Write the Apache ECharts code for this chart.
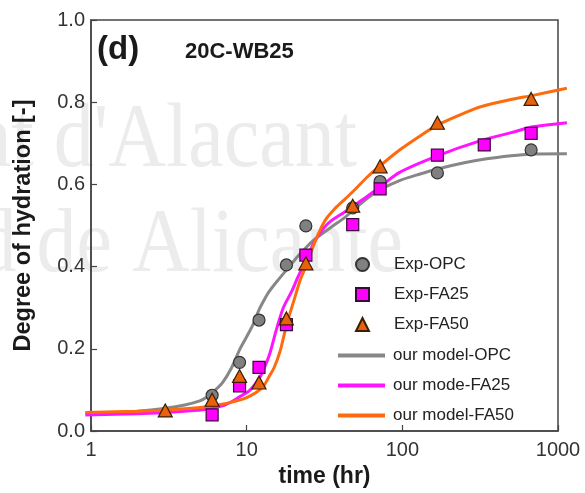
<!DOCTYPE html>
<html>
<head>
<meta charset="utf-8">
<script src="https://cdn.jsdelivr.net/npm/echarts@6/dist/echarts.min.js"></script>
<style>
  html, body { margin: 0; padding: 0; background: #ffffff; }
  #chart { width: 585px; height: 493px; }
</style>
</head>
<body>
<div id="chart"></div>
<script>
// Measured degree of hydration (20C, w/b 0.25)
const expTime = [3, 6, 9, 12, 18, 24, 48, 72, 168, 336, 672];
const expOPC  = [null, 0.087, 0.167, 0.270, 0.404, 0.499, 0.543, 0.607, 0.628, null, 0.684];
const expFA25 = [null, 0.039, 0.110, 0.155, 0.259, 0.428, 0.502, 0.589, 0.671, 0.696, 0.724];
const expFA50 = [0.050, 0.076, 0.134, 0.118, 0.274, 0.408, 0.548, 0.644, 0.750, null, 0.808];

// Model curves (they run slightly past both ends of the time axis)
const opcModelTime = [0.92, 1.5, 2, 3, 4, 5, 5.5, 6.2, 7, 8, 9, 10, 11, 12, 13, 14, 16, 18, 21.4, 24, 27.5, 35, 43, 48, 60, 72, 96, 130, 168, 250, 340, 500, 660, 1140];
const opcModel     = [0.050, 0.052, 0.055, 0.062, 0.070, 0.080, 0.088, 0.104, 0.124, 0.160, 0.203, 0.235, 0.265, 0.300, 0.325, 0.345, 0.373, 0.396, 0.430, 0.450, 0.471, 0.500, 0.524, 0.540, 0.570, 0.590, 0.612, 0.628, 0.640, 0.655, 0.664, 0.672, 0.676, 0.677];

const fa25ModelTime = [0.92, 2, 3, 4, 5.5, 7, 8, 9, 10.5, 12.2, 13, 14.1, 15.6, 17.2, 19.5, 21.4, 24, 27.5, 33.4, 42.8, 48, 60, 72, 96, 168, 315, 500, 692, 1140];
const fa25Model     = [0.046, 0.049, 0.052, 0.055, 0.060, 0.068, 0.078, 0.090, 0.106, 0.138, 0.160, 0.195, 0.255, 0.305, 0.345, 0.380, 0.420, 0.467, 0.509, 0.537, 0.550, 0.575, 0.597, 0.632, 0.672, 0.708, 0.728, 0.742, 0.752];

const fa50ModelTime = [0.92, 2, 3, 4, 5.5, 7.4, 9, 10, 11.5, 12.8, 14, 15, 16.4, 18, 20.4, 22, 24, 27.5, 31.8, 37, 43, 48, 60, 72, 96, 130, 166, 250, 315, 500, 692, 1140];
const fa50Model     = [0.052, 0.055, 0.058, 0.061, 0.066, 0.074, 0.082, 0.088, 0.100, 0.115, 0.140, 0.160, 0.200, 0.262, 0.330, 0.370, 0.405, 0.465, 0.515, 0.545, 0.568, 0.585, 0.622, 0.648, 0.686, 0.720, 0.745, 0.775, 0.790, 0.808, 0.818, 0.835];

const yTicks = ['0.0', '0.2', '0.4', '0.6', '0.8', '1.0'];

const pairs = (xs, ys) => xs.map((x, i) => [x, ys[i]]).filter(p => p[1] !== null);

const FONT = '"Liberation Sans", Arial, Helvetica, sans-serif';

// Plot box and the log scale it uses (pixels per decade)
const PLOT = { left: 91, top: 20, width: 467, height: 414 };
const PX_PER_DECADE = PLOT.width / 3;
// Curves get a slightly wider, invisible log axis with the same pixels per decade
const CURVE_PAD_L = 6, CURVE_PAD_R = 9;
const curveMin = Math.pow(10, -CURVE_PAD_L / PX_PER_DECADE);
const curveMax = Math.pow(10, 3 + CURVE_PAD_R / PX_PER_DECADE);

const chart = echarts.init(document.getElementById('chart'), null, { renderer: 'canvas' });

chart.setOption({
  backgroundColor: '#ffffff',
  animation: false,
  textStyle: { fontFamily: FONT },
  graphic: [
    // faint repository stamp behind the plot
    {
      type: 'text', x: 357, y: 142, scaleY: 1.15, z: -10, silent: true,
      style: { text: "Universitat d'Alacant", font: '80px "Liberation Serif", "DejaVu Serif", serif',
               fill: '#ececec', align: 'right', verticalAlign: 'middle' }
    },
    {
      type: 'text', x: 403, y: 247, scaleY: 1.15, z: -10, silent: true,
      style: { text: 'Universidad de Alicante', font: '80px "Liberation Serif", "DejaVu Serif", serif',
               fill: '#ececec', align: 'right', verticalAlign: 'middle' }
    },
    {
      type: 'text', x: 97, y: 50, z: 10,
      style: { text: '(d)', font: 'bold 33px ' + FONT, fill: '#1a1a1a', align: 'left', verticalAlign: 'middle' }
    },
    {
      type: 'text', x: 185, y: 52, z: 10,
      style: { text: '20C-WB25', font: 'bold 22px ' + FONT, fill: '#1a1a1a', align: 'left', verticalAlign: 'middle' }
    }
  ],
  grid: [
    {
      left: PLOT.left, top: PLOT.top, width: PLOT.width, height: PLOT.height,
      show: true, borderColor: '#444', borderWidth: 1.5, backgroundColor: 'transparent'
    },
    {
      left: PLOT.left - CURVE_PAD_L, top: PLOT.top,
      width: PLOT.width + CURVE_PAD_L + CURVE_PAD_R, height: PLOT.height,
      show: false
    }
  ],
  legend: [
    {
      orient: 'vertical', padding: 0,
      left: 355, top: 256,
      itemWidth: 13, itemHeight: 13, itemGap: 13,
      textStyle: { fontSize: 17, color: '#222', fontFamily: FONT, padding: [0, 0, 0, 20] },
      data: ['Exp-OPC', 'Exp-FA25', 'Exp-FA50']
    },
    {
      orient: 'vertical', padding: 0,
      left: 338, top: 347,
      icon: 'rect',
      itemWidth: 47, itemHeight: 4, itemGap: 13,
      textStyle: { fontSize: 17, color: '#222', fontFamily: FONT, padding: [0, 0, 0, 3] },
      data: ['our model-OPC', 'our mode-FA25', 'our model-FA50']
    }
  ],
  xAxis: [
    {
      type: 'log', logBase: 10, min: 1, max: 1000, gridIndex: 0,
      name: 'time (hr)', nameLocation: 'middle', nameGap: 34,
      nameTextStyle: { fontSize: 23, fontWeight: 'bold', color: '#1a1a1a', fontFamily: FONT },
      axisLine: { show: true, lineStyle: { color: '#444', width: 1.5 } },
      axisTick: { show: true, inside: true, length: 6, lineStyle: { color: '#444', width: 1.2 } },
      minorTick: { show: false },
      splitLine: { show: false },
      axisLabel: { fontSize: 20, color: '#333', margin: 9, fontFamily: FONT, formatter: v => String(Math.round(v)) }
    },
    {
      type: 'log', logBase: 10, min: curveMin, max: curveMax, gridIndex: 1, show: false
    }
  ],
  yAxis: [
    {
      type: 'value', min: 0, max: 1, interval: 0.2, gridIndex: 0,
      name: 'Degree of hydration [-]', nameLocation: 'middle', nameGap: 55,
      nameTextStyle: { fontSize: 23.5, fontWeight: 'bold', color: '#1a1a1a', fontFamily: FONT },
      axisLine: { show: true, lineStyle: { color: '#444', width: 1.5 } },
      axisTick: { show: true, inside: true, length: 6, lineStyle: { color: '#444', width: 1.2 } },
      splitLine: { show: false },
      axisLabel: { fontSize: 20, color: '#333', margin: 6, fontFamily: FONT,
                   formatter: v => yTicks[Math.round(v / 0.2)] }
    },
    {
      type: 'value', min: 0, max: 1, gridIndex: 1, show: false
    }
  ],
  series: [
    {
      name: 'our model-OPC', type: 'line', data: pairs(opcModelTime, opcModel),
      xAxisIndex: 1, yAxisIndex: 1,
      symbol: 'none', smooth: 0.3, clip: false, z: 2,
      lineStyle: { color: '#878787', width: 3 }, itemStyle: { color: '#878787' }
    },
    {
      name: 'our mode-FA25', type: 'line', data: pairs(fa25ModelTime, fa25Model),
      xAxisIndex: 1, yAxisIndex: 1,
      symbol: 'none', smooth: 0.3, clip: false, z: 2,
      lineStyle: { color: '#ff14ff', width: 3 }, itemStyle: { color: '#ff14ff' }
    },
    {
      name: 'our model-FA50', type: 'line', data: pairs(fa50ModelTime, fa50Model),
      xAxisIndex: 1, yAxisIndex: 1,
      symbol: 'none', smooth: 0.3, clip: false, z: 2,
      lineStyle: { color: '#ff6a0e', width: 3 }, itemStyle: { color: '#ff6a0e' }
    },
    {
      name: 'Exp-OPC', type: 'scatter', data: pairs(expTime, expOPC),
      symbol: 'circle', symbolSize: 12, z: 4,
      itemStyle: { color: '#808080', borderColor: '#333', borderWidth: 1.2, opacity: 1 }
    },
    {
      name: 'Exp-FA25', type: 'scatter', data: pairs(expTime, expFA25),
      symbol: 'rect', symbolSize: 12, z: 5,
      itemStyle: { color: '#ff00ff', borderColor: '#3a0a3a', borderWidth: 1.2, opacity: 1 }
    },
    {
      name: 'Exp-FA50', type: 'scatter', data: pairs(expTime, expFA50),
      symbol: 'triangle', symbolSize: [14, 13], z: 6,
      itemStyle: { color: '#e8620c', borderColor: '#3a1e05', borderWidth: 1.2, opacity: 1 }
    }
  ]
});
</script>
</body>
</html>
